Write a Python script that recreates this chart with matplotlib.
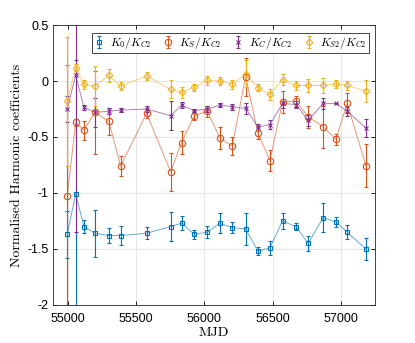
import numpy as np
import matplotlib
matplotlib.use("Agg")
import matplotlib.pyplot as plt

plt.rcParams["mathtext.fontset"] = "cm"
plt.rcParams["font.family"] = "Liberation Sans"

# %% data
mjd = [54996, 55058, 55119, 55199, 55301, 55387, 55577, 55753, 55833, 55926,
       56021, 56114, 56204, 56302, 56392, 56480, 56572, 56670, 56760, 56870,
       56963, 57045, 57182]

k0 = [-1.37, -1.01, -1.30, -1.36, -1.38, -1.38, -1.36, -1.30, -1.27, -1.37,
      -1.35, -1.27, -1.31, -1.32, -1.52, -1.49, -1.25, -1.30, -1.45, -1.22,
      -1.26, -1.35, -1.50]
k0_err = [0.21, 1.2, 0.06, 0.21, 0.065, 0.085, 0.055, 0.13, 0.065, 0.04,
          0.055, 0.09, 0.05, 0.145, 0.035, 0.06, 0.07, 0.03, 0.065, 0.13,
          0.045, 0.065, 0.10]

ks = [-1.03, -0.37, -0.44, -0.28, -0.36, -0.76, -0.29, -0.81, -0.55, -0.31,
      -0.27, -0.51, -0.58, 0.04, -0.465, -0.71, -0.185, -0.18, -0.32, -0.41,
      -0.52, -0.20, -0.755]
ks_err = [1.17, 0.03, 0.085, 0.37, 0.12, 0.09, 0.04, 0.17, 0.10, 0.04,
          0.05, 0.10, 0.08, 0.17, 0.05, 0.09, 0.10, 0.05, 0.10, 0.19,
          0.05, 0.09, 0.19]

kc = [-0.25, 0.05, -0.235, -0.28, -0.27, -0.26, -0.25, -0.31, -0.215, -0.265,
      -0.25, -0.215, -0.23, -0.245, -0.41, -0.39, -0.20, -0.21, -0.35, -0.20,
      -0.20, -0.27, -0.42]
kc_err = [0.115, 1.4, 0.02, 0.13, 0.025, 0.02, 0.025, 0.13, 0.03, 0.015,
          0.03, 0.02, 0.025, 0.05, 0.03, 0.04, 0.04, 0.03, 0.05, 0.05,
          0.005, 0.04, 0.08]

ks2 = [-0.18, 0.12, -0.03, -0.045, 0.05, -0.045, 0.045, -0.075, -0.10, -0.055,
       0.005, 0.0, -0.03, 0.065, -0.06, -0.12, 0.01, -0.04, -0.04, -0.04,
       -0.027, -0.04, -0.09]
ks2_err = [0.575, 0.03, 0.04, 0.175, 0.055, 0.035, 0.04, 0.08, 0.05, 0.03,
           0.04, 0.04, 0.04, 0.12, 0.03, 0.05, 0.05, 0.04, 0.06, 0.07,
           0.035, 0.04, 0.10]

labels = [r"$K_0/K_{C2}$", r"$K_S/K_{C2}$", r"$K_C/K_{C2}$", r"$K_{S2}/K_{C2}$"]

# %% plot
fig, ax = plt.subplots(figsize=(4.15, 3.43), dpi=100)
fig.subplots_adjust(left=0.128, right=0.904, top=0.927, bottom=0.111)

series = [
    (k0, k0_err, "#0072BD", "s", 3.2),
    (ks, ks_err, "#D95319", "o", 4.6),
    (kc, kc_err, "#7E2F8E", "x", 2.6),
    (ks2, ks2_err, "#EDB120", "D", 3.4),
]

for (vals, errs, col, mk, ms), lab in zip(series, labels):
    ax.plot(mjd, vals, color=col, lw=0.7, alpha=0.6, zorder=2)
    ax.errorbar(
        mjd,
        vals,
        yerr=errs,
        fmt=mk,
        color=col,
        mfc="none",
        mew=0.8,
        ms=ms,
        elinewidth=0.8,
        capsize=1.6,
        capthick=0.8,
        label=lab,
        zorder=3,
    )

ax.set_xlim(54893, 57250)
ax.set_ylim(-2, 0.5)
ax.set_xticks([55000, 55500, 56000, 56500, 57000])
ax.set_yticks([-2, -1.5, -1, -0.5, 0, 0.5])
ax.set_yticklabels(["-2", "-1.5", "-1", "-0.5", "0", "0.5"])
ax.tick_params(direction="in", labelsize=9, length=3, top=True, right=True,
               labeltop=False, labelright=False, width=0.6)
ax.tick_params(axis="x", pad=6)
ax.grid(color="#e6e6e6", lw=0.7)
ax.set_axisbelow(True)
for sp in ax.spines.values():
    sp.set_linewidth(0.6)
    sp.set_color("#262626")

ax.set_xlabel("MJD", fontsize=10, labelpad=1)
ax.set_ylabel("Normalised Harmonic coefficients", fontsize=10, labelpad=3)
for t in (ax.xaxis.label, ax.yaxis.label):
    t.set_fontfamily("cmr10")

leg = ax.legend(
    ncol=4,
    loc="upper right",
    bbox_to_anchor=(0.998, 0.993),
    fontsize=8.3,
    frameon=True,
    fancybox=False,
    edgecolor="#262626",
    framealpha=1,
    handlelength=0.9,
    handletextpad=0.5,
    columnspacing=1.0,
    borderpad=0.2,
)
leg.get_frame().set_linewidth(0.6)

fig.savefig("out.png", dpi=100)
